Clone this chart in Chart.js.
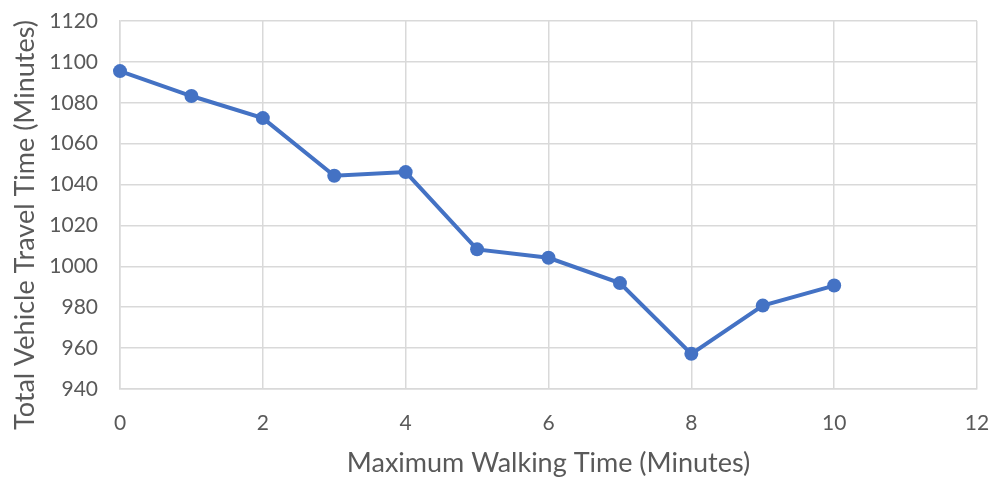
<!DOCTYPE html>
<html>
<head>
<meta charset="utf-8">
<script src="https://cdn.jsdelivr.net/npm/chart.js@4.4.1/dist/chart.umd.min.js"></script>
<style>
  html, body { margin: 0; padding: 0; background: #fff; }
  #wrap { width: 991px; height: 477px; position: relative; }
</style>
</head>
<body>
<div id="wrap"><canvas id="TravelChart"></canvas></div>
<script>
// data
var walkingTimes = [0, 1, 2, 3, 4, 5, 6, 7, 8, 9, 10];
var travelTimes = [1095.5, 1083.3, 1072.5, 1044.3, 1046.1, 1008.3, 1004.2, 991.8, 957.2, 980.8, 990.6];
var xTitle = "Maximum Walking Time (Minutes)";
var yTitle = "Total Vehicle Travel Time (Minutes)";

var fontFamily = "Lato, 'Open Sans', sans-serif";
var gridColor = "#d9d9d9";
var textColor = "#595959";

// y title drawn by hand so it can sit lower than the plot centre, like the original
var yTitlePlugin = {
    id: 'yTitle',
    afterDraw: function (chart) {
        var ctx = chart.ctx;
        ctx.save();
        ctx.translate(25, 225);
        ctx.rotate(-Math.PI / 2);
        ctx.font = "27px " + fontFamily;
        ctx.fillStyle = textColor;
        ctx.textAlign = "center";
        ctx.textBaseline = "middle";
        ctx.fillText(yTitle, 0, 0);
        ctx.restore();
    }
};

var points = walkingTimes.map(function (x, i) {
    return { x: x, y: travelTimes[i] };
});

var travelChart = new Chart(document.getElementById("TravelChart"), {
    type: 'line',
    plugins: [yTitlePlugin],
    data: {
        datasets: [{
            data: points,
            borderColor: "#4472c4",
            backgroundColor: "#4472c4",
            borderWidth: 4,
            pointRadius: 7,
            pointBorderWidth: 0,
            pointBackgroundColor: "#4472c4",
            tension: 0,
            fill: false,
            clip: false
        }]
    },
    options: {
        responsive: true,
        maintainAspectRatio: false,
        animation: false,
        layout: { padding: { left: 0, right: 14, top: 21, bottom: 0 } },
        plugins: {
            legend: { display: false },
            tooltip: { enabled: false }
        },
        scales: {
            x: {
                type: 'linear',
                min: 0,
                max: 12,
                ticks: {
                    stepSize: 2,
                    color: textColor,
                    padding: 22,
                    font: { family: fontFamily, size: 21 },
                    callback: function (v) { return String(v); }
                },
                grid: { color: gridColor, lineWidth: 1.5, drawTicks: false },
                border: { color: gridColor, width: 1.5 },
                title: {
                    display: true,
                    text: xTitle,
                    color: textColor,
                    font: { family: fontFamily, size: 27 },
                    padding: { top: 0, bottom: -2 }
                },
                afterFit: function (scale) {
                    scale.height = 88;
                    scale.paddingLeft = 0;
                    scale.paddingRight = 0;
                }
            },
            y: {
                min: 940,
                max: 1120,
                ticks: {
                    stepSize: 20,
                    color: textColor,
                    padding: 22,
                    font: { family: fontFamily, size: 21 },
                    callback: function (v) { return String(v); }
                },
                grid: { color: gridColor, lineWidth: 1.5, drawTicks: false },
                border: { color: gridColor, width: 1.5 },
                afterFit: function (scale) {
                    scale.width = 120;
                    scale.paddingTop = 0;
                    scale.paddingBottom = 0;
                }
            }
        }
    }
});
</script>
</body>
</html>
